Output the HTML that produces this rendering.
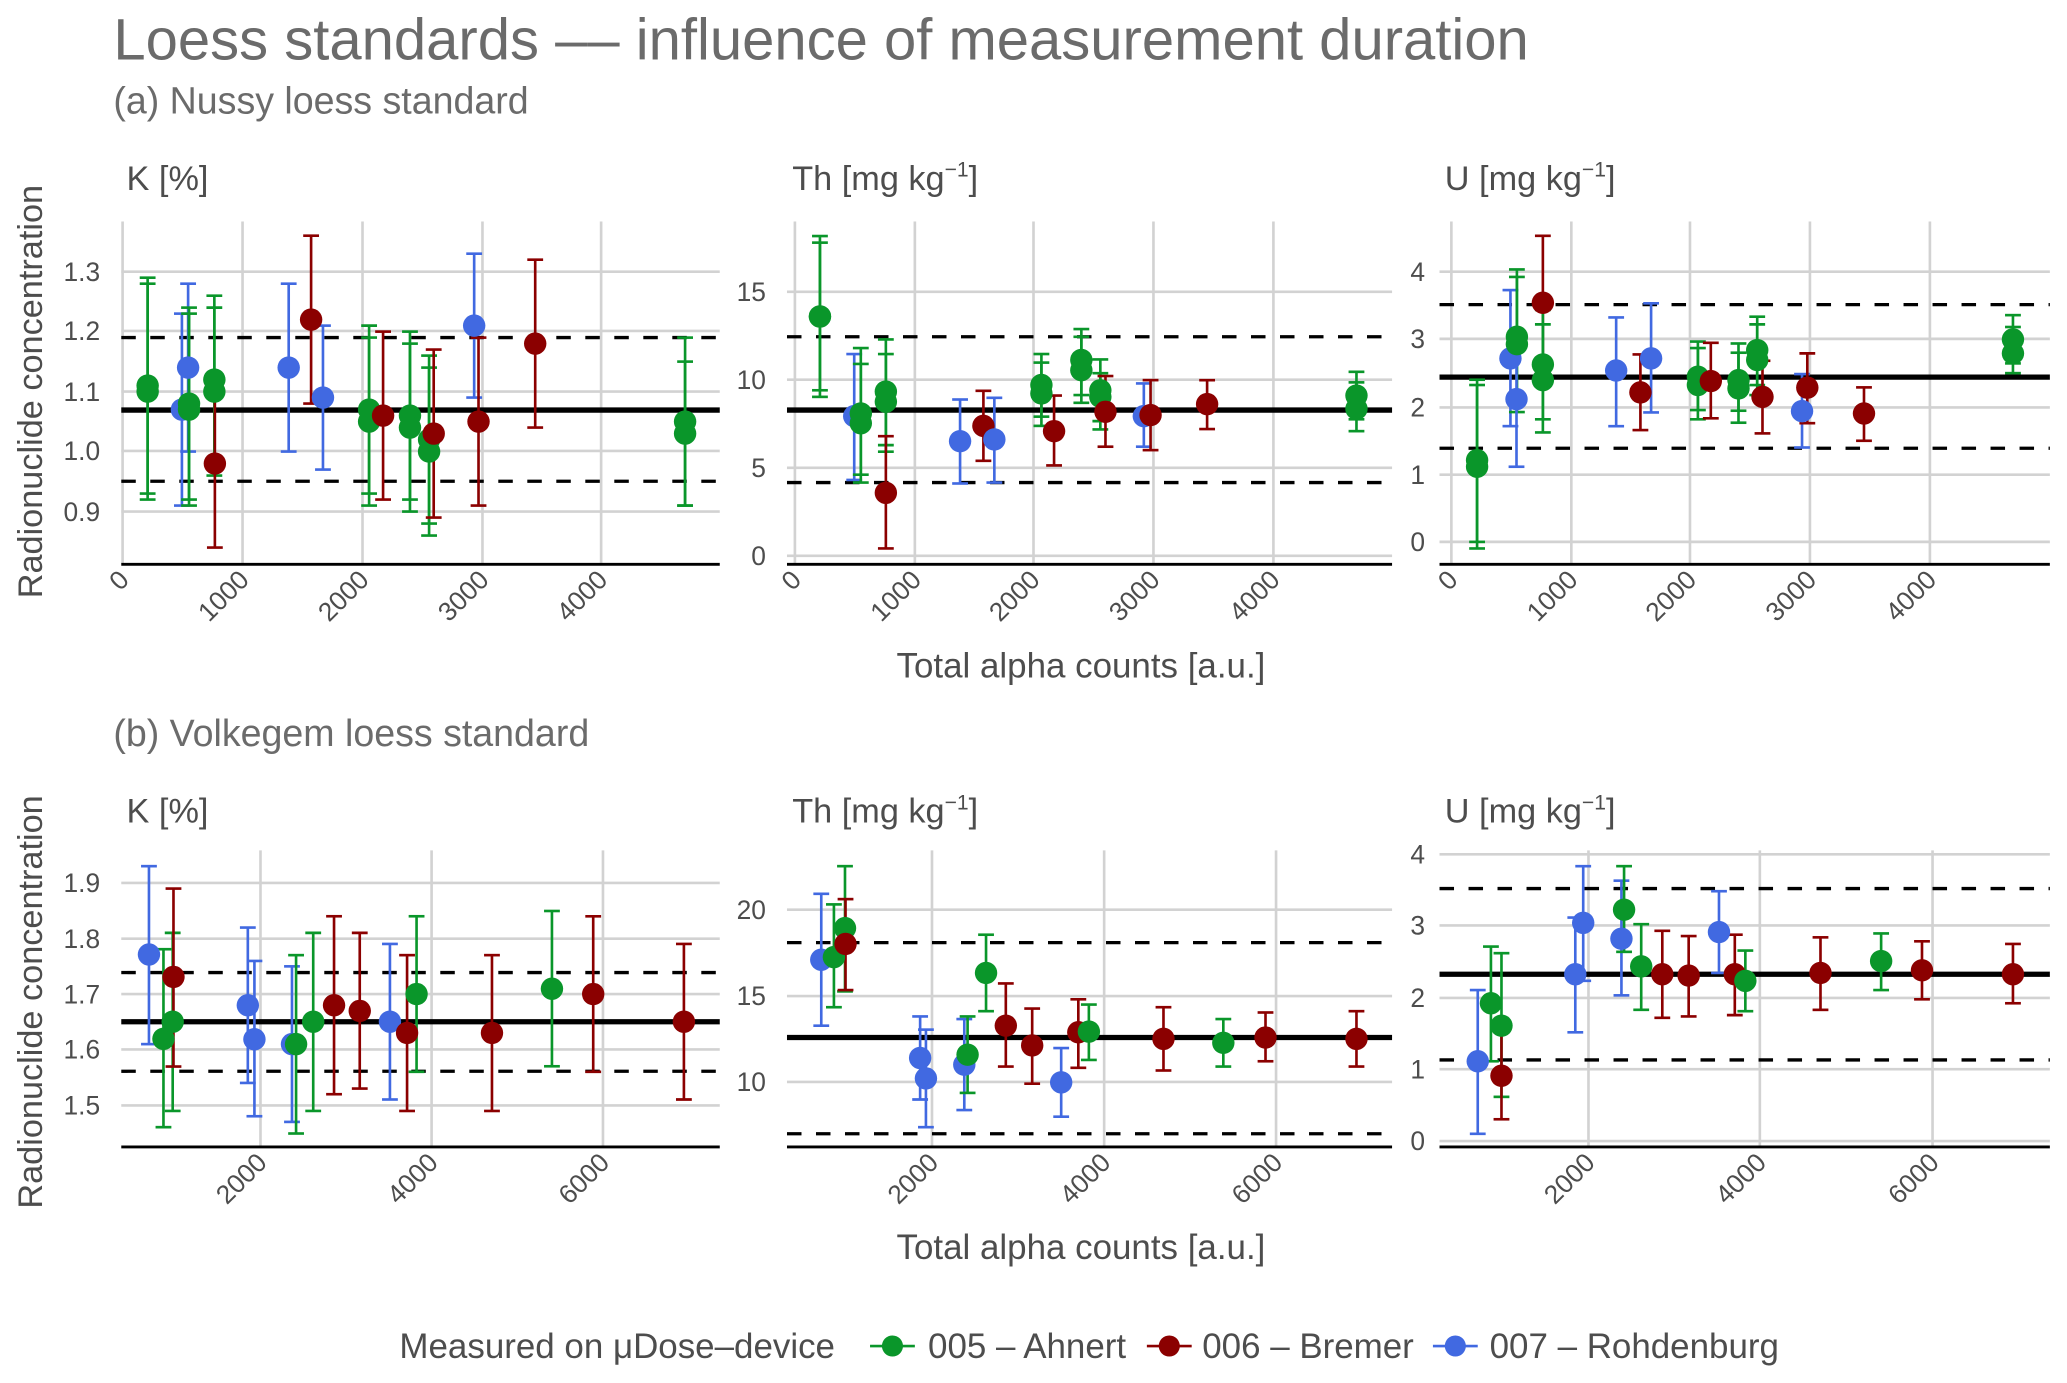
<!DOCTYPE html>
<html><head><meta charset="utf-8"><style>
html,body{margin:0;padding:0;background:#fff}
svg{display:block}
text{font-family:"Liberation Sans",sans-serif}
</style></head><body>
<svg id="s" width="2067" height="1383" viewBox="0 0 1568 1049" xmlns="http://www.w3.org/2000/svg">
<rect width="1568" height="1049" fill="#fff"/>
<text x="86" y="45" font-size="44" fill="#6b6b6b">Loess standards –– influence of measurement duration</text>
<text x="86" y="86" font-size="28.5" fill="#6b6b6b">(a) Nussy loess standard</text>
<text x="86" y="566" font-size="28.5" fill="#6b6b6b">(b) Volkegem loess standard</text>
<text transform="translate(32,297) rotate(-90)" text-anchor="middle" font-size="26" fill="#4d4d4d">Radionuclide concentration</text>
<text transform="translate(32,760) rotate(-90)" text-anchor="middle" font-size="26" fill="#4d4d4d">Radionuclide concentration</text>
<text x="820" y="514" text-anchor="middle" font-size="26.5" fill="#4d4d4d">Total alpha counts [a.u.]</text>
<text x="820" y="955" text-anchor="middle" font-size="26.5" fill="#4d4d4d">Total alpha counts [a.u.]</text>
<g id="g"></g>
<text x="303" y="1030" font-size="26.5" fill="#4d4d4d">Measured on μDose–device</text>
<line x1="660" y1="1021" x2="694" y2="1021" stroke="#0a962a" stroke-width="2"/><circle cx="677" cy="1021" r="8" fill="#0a962a"/>
<text x="704" y="1030" font-size="26.5" fill="#4d4d4d">005 – Ahnert</text>
<line x1="870" y1="1021" x2="904" y2="1021" stroke="#8b0000" stroke-width="2"/><circle cx="887" cy="1021" r="8" fill="#8b0000"/>
<text x="912" y="1030" font-size="26.5" fill="#4d4d4d">006 – Bremer</text>
<line x1="1087" y1="1021" x2="1121" y2="1021" stroke="#4169e1" stroke-width="2"/><circle cx="1104" cy="1021" r="8" fill="#4169e1"/>
<text x="1130" y="1030" font-size="26.5" fill="#4d4d4d">007 – Rohdenburg</text>
</svg>
<script>
const G='#0a962a',R='#8b0000',B='#4169e1';
const SUP='<tspan dy="-10" font-size="16">−1</tspan><tspan dy="10">]</tspan>';
const K=v=>206+(1.3-v)*455;
const kp=(c,x,v,t,b)=>[c,x,K(v),K(t),K(b)];
const panels=[
{x0:92,x1:546,y0:168,y1:428,strip:'K [%]',sy:144,lx:76,
 yt:[[206,'1.3'],[251,'1.2'],[297,'1.1'],[342,'1.0'],[388,'0.9']],
 xt:[[93,'0'],[184,'1000'],[275,'2000'],[366,'3000'],[456,'4000']],
 ref:[311,256,365],
 pts:[kp(G,112,1.11,1.29,0.93),kp(G,112,1.10,1.28,0.92),
 kp(B,138,1.07,1.23,0.91),kp(B,142.7,1.14,1.28,1.00),
 kp(G,143.4,1.08,1.24,0.92),kp(G,143.4,1.07,1.23,0.91),
 kp(G,162.6,1.12,1.26,0.98),kp(G,162.6,1.10,1.24,0.96),
 kp(R,163,0.98,1.12,0.84),kp(B,219,1.14,1.28,1.00),kp(R,236,1.22,1.36,1.08),kp(B,245,1.09,1.21,0.97),
 kp(G,280,1.07,1.21,0.93),kp(G,280,1.05,1.19,0.91),kp(R,290.6,1.06,1.20,0.92),
 kp(G,311,1.06,1.20,0.92),kp(G,311,1.04,1.18,0.90),kp(G,325.5,1.02,1.16,0.88),kp(G,325.5,1.00,1.14,0.86),
 kp(R,329,1.03,1.17,0.89),kp(B,359.7,1.21,1.33,1.09),kp(R,363,1.05,1.19,0.91),kp(R,406,1.18,1.32,1.04),
 kp(G,519.7,1.05,1.19,0.91),kp(G,519.7,1.03,1.15,0.91)]},
{x0:597,x1:1056,y0:168,y1:428,strip:'Th [mg kg'+SUP,sy:144,lx:581,
 yt:[[221.3,'15'],[288,'10'],[354.8,'5'],[421.6,'0']],
 xt:[[603,'0'],[694,'1000'],[784,'2000'],[875,'3000'],[966,'4000']],
 ref:[311,255.4,366],
 pts:[[G,622,240,179,301],[G,622,240,184,296],[B,648,315.6,268.5,364],[G,653,313.6,264,360],[G,653,321,276,366],
 [G,672,297,257.4,337.6],[G,672,304.7,268.5,342.6],[R,672,373.8,330.8,416],[B,728.3,334.6,303,366.7],[R,746,323,296.4,349.5],
 [B,754.3,333.3,301.7,366],[G,790,292,268.5,316],[G,790,298.4,275,323],[R,799.6,327,300,353],
 [G,820.3,273,249.6,299.6],[G,820.3,280.7,255.4,305.5],[G,834.7,296,272.6,319.4],[G,834.7,301,283,325.7],
 [R,838.6,312.3,285.2,338.8],[B,867.7,315.6,290.8,338.8],[R,872.8,314.8,288.3,341.4],[R,915.7,306.5,288.3,325.4],
 [G,1029,300,282,318],[G,1029,310,290,327]]},
{x0:1092,x1:1555,y0:168,y1:428,strip:'U [mg kg'+SUP,sy:144,lx:1081,
 yt:[[206,'4'],[257,'3'],[309,'2'],[360,'1'],[411,'0']],
 xt:[[1101,'0'],[1192,'1000'],[1282,'2000'],[1373,'3000'],[1464,'4000']],
 ref:[286,231,340],
 pts:[[G,1120.5,349,288,411],[G,1120.5,354,292,416],[B,1145.8,271.8,220,323.2],[G,1150.7,255.4,204.3,306.5],[G,1150.7,261,210,312.5],
 [B,1150.4,302.7,251.6,354],[R,1170.4,229.6,178.8,282],[G,1170.4,276.4,235,318],[G,1170.4,288.3,246,328],
 [B,1226,281,240.7,323.2],[R,1244.4,297.6,268.8,326.2],[B,1252.5,271.8,230,312.8],
 [G,1288,285.7,259,311],[G,1288,292,264,318],[R,1297.8,289,260,317.3],[G,1318.8,288.3,260.5,311.5],[G,1318.8,294.6,267.5,320.6],
 [G,1333,265.5,240.2,292],[G,1333,273,246,299.6],[R,1337,301,273.6,328.7],[B,1367,311.8,283.7,339.4],[R,1371,294,268,321],
 [R,1414,313.6,293.8,334.3],[G,1527,257.4,239,275.6],[G,1527,268,248,283]]},
{x0:92,x1:546,y0:645,y1:870,strip:'K [%]',sy:624,lx:76,
 yt:[[669.7,'1.9'],[712,'1.8'],[754,'1.7'],[796,'1.6'],[838.5,'1.5']],
 xt:[[197.6,'2000'],[327.4,'4000'],[457.4,'6000']],
 ref:[775,737.7,812.6],
 pts:[[B,113,724,657,792],[G,124,788,720,855],[G,131,775,707.6,842.7],[R,131.6,741,674,809],[B,188,762.5,703.6,821.4],
 [B,193,788.3,728.9,846.7],[B,221.5,792,733,851],[G,224.6,792,724.5,859.8],[G,237.6,775,707.6,842.7],[R,253.4,762.5,695,830],
 [R,272.9,766.8,707.6,825.7],[B,295.8,775,716,834],[R,308.8,783.5,724.5,842.7],[G,316,754,695,813],[R,373.2,783.5,724.5,842.7],
 [G,418.7,750,691,808.8],[R,450,754,695,813],[R,518.8,775,716,834]]},
{x0:597,x1:1056,y0:645,y1:870,strip:'Th [mg kg'+SUP,sy:624,lx:581,
 yt:[[690,'20'],[755.5,'15'],[820.7,'10']],
 xt:[[707,'2000'],[837.6,'4000'],[968,'6000']],
 ref:[787,715,860],
 pts:[[B,623,728,678,778],[G,632.6,726,686,764],[G,641,704,657,752],[R,641.4,716,682,751],[B,698,802.5,771,834],
 [B,702.4,818,781,855],[B,731.5,807.6,773,842],[G,734,800,771,829],[G,748,738,709,767],[R,763,778,746,809],
 [R,783,793,765,822],[B,805,821,795,847],[R,818,783,758,810],[G,826,782.5,762,804],[R,882.6,788,764,812],
 [G,928,791,773,809],[R,960,787,768,805],[R,1029,788,767,809]]},
{x0:1092,x1:1555,y0:645,y1:870,strip:'U [mg kg'+SUP,sy:624,lx:1081,
 yt:[[648,'4'],[702,'3'],[757,'2'],[811,'1'],[865.5,'0']],
 xt:[[1205,'2000'],[1335,'4000'],[1466,'6000']],
 ref:[739,674,804],
 pts:[[B,1121,805,751,860],[G,1131,761,718,805],[G,1139,778,723,832],[R,1139,816,783,849],[B,1195,739,696,783],
 [B,1201,700,657,744],[B,1230,712,668,755],[G,1232,690,657,722],[G,1245,733,701,766],[R,1261,739,706,772],
 [R,1281,740,710,771],[B,1304,707,676,738],[R,1316,739,709,770],[G,1324,744,721,767],[R,1381,738,711,766],
 [G,1427,729,708,751],[R,1458,736,714,758],[R,1527,739,716,761]]}
];
let h='';
for(const p of panels){
 h+=`<text x="${p.x0+4}" y="${p.sy}" font-size="26" fill="#4d4d4d">${p.strip}</text>`;
 for(const [y,l] of p.yt){h+=`<line x1="${p.x0}" x2="${p.x1}" y1="${y}" y2="${y}" stroke="#d2d2d2" stroke-width="2"/>`;
  h+=`<text x="${p.lx}" y="${y+7}" text-anchor="end" font-size="20" fill="#4d4d4d">${l}</text>`;}
 for(const [x,l] of p.xt){h+=`<line x1="${x}" x2="${x}" y1="${p.y0}" y2="${p.y1}" stroke="#d2d2d2" stroke-width="2"/>`;
  h+=`<text transform="translate(${x+6},${p.y1+13}) rotate(-45)" text-anchor="end" font-size="20" fill="#4d4d4d">${l}</text>`;}
 h+=`<line x1="${p.x0}" x2="${p.x1}" y1="${p.y1}" y2="${p.y1}" stroke="#000" stroke-width="2.2"/>`;
 h+=`<line x1="${p.x0}" x2="${p.x1}" y1="${p.ref[0]}" y2="${p.ref[0]}" stroke="#000" stroke-width="4"/>`;
 for(const y of [p.ref[1],p.ref[2]]) h+=`<line x1="${p.x0}" x2="${p.x1}" y1="${y}" y2="${y}" stroke="#000" stroke-width="2.5" stroke-dasharray="11,11"/>`;
 for(const [c,x,y,a,b] of p.pts){
  h+=`<line x1="${x}" x2="${x}" y1="${a}" y2="${b}" stroke="${c}" stroke-width="2"/>`;
  h+=`<line x1="${x-6}" x2="${x+6}" y1="${a}" y2="${a}" stroke="${c}" stroke-width="2"/>`;
  h+=`<line x1="${x-6}" x2="${x+6}" y1="${b}" y2="${b}" stroke="${c}" stroke-width="2"/>`;
 }
 for(const [c,x,y] of p.pts) h+=`<circle cx="${x}" cy="${y}" r="8.5" fill="${c}"/>`;
}
document.getElementById('g').innerHTML=h;
</script>
</body></html>
